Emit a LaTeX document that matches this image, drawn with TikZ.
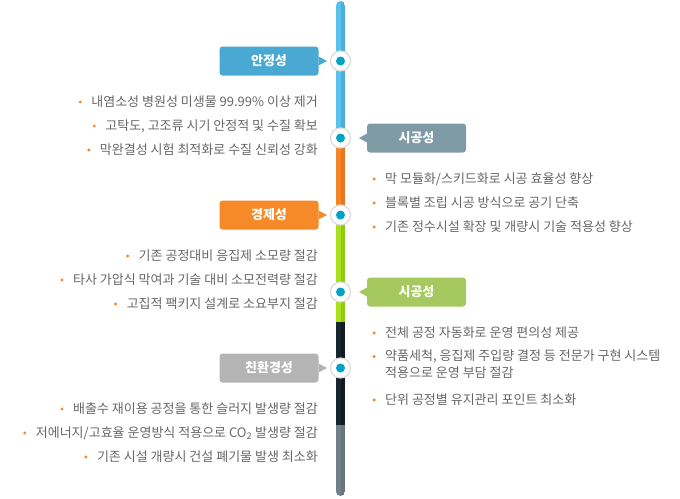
\documentclass[tikz,border=0pt]{standalone}
\usepackage{fontspec}
\setmainfont{Noto Sans CJK KR}
\usetikzlibrary{positioning}

\definecolor{barblue}{HTML}{5BC0EB}
\definecolor{barblueD}{HTML}{4AAEDD}
\definecolor{barorange}{HTML}{F58628}
\definecolor{barorangeD}{HTML}{E6791F}
\definecolor{bargreen}{HTML}{A8E01C}
\definecolor{bargreenD}{HTML}{92C913}
\definecolor{barnavy}{HTML}{18242E}
\definecolor{barnavyD}{HTML}{111B23}
\definecolor{bargray}{HTML}{728189}
\definecolor{bargrayD}{HTML}{67757E}
\definecolor{ringgray}{HTML}{DCDCDC}
\definecolor{hubcyan}{HTML}{00A3C8}
\definecolor{tagblue}{HTML}{4AA9D2}
\definecolor{tagslate}{HTML}{7F9CA6}
\definecolor{tagorange}{HTML}{F68A28}
\definecolor{taggreen}{HTML}{A5C95E}
\definecolor{taggray}{HTML}{B4B4B4}
\definecolor{txtgray}{HTML}{666666}
\definecolor{bulorange}{HTML}{F28C34}

\begin{document}
\begin{tikzpicture}[x=1pt,y=-1pt,node distance=12pt,
  hub/.style={circle,draw=ringgray,line width=1.2pt,fill=white,minimum size=20pt,
    inner sep=0pt,outer sep=0pt,
    path picture={\fill[hubcyan] (path picture bounding box.center) circle (4.5pt);}},
  tag/.style={rounded corners=3pt,minimum width=99pt,minimum height=29pt,inner sep=0pt,
    outer sep=0pt,text=white,font=\fontsize{13}{13}\selectfont\bfseries},
  item/.style={inner sep=0pt,text=txtgray,font=\fontsize{13}{17}\selectfont},
  line/.style={item,text height=10.5pt,text depth=2.5pt},
  bul/.style={circle,fill=bulorange,minimum size=3.4pt,inner sep=0pt,left=9pt of #1}]
 \useasboundingbox (0,0) rectangle (680,498);
 % vertical bar
 \begin{scope}
  \clip[rounded corners=4.5pt] (336,1) rectangle (345,496);
  \fill[barblue] (336,1) rectangle (341,147);     \fill[barblueD] (341,1) rectangle (345,147);
  \fill[barorange] (336,147) rectangle (341,225); \fill[barorangeD] (341,147) rectangle (345,225);
  \fill[bargreen] (336,225) rectangle (341,322);  \fill[bargreenD] (341,225) rectangle (345,322);
  \fill[barnavy] (336,322) rectangle (341,425);   \fill[barnavyD] (341,322) rectangle (345,425);
  \fill[bargray] (336,425) rectangle (341,496);   \fill[bargrayD] (341,425) rectangle (345,496);
 \end{scope}
 % hubs
 \node[hub] (h1) at (340.5,61) {};
 \node[hub] (h2) at (340.5,138) {};
 \node[hub] (h3) at (340.5,215) {};
 \node[hub] (h4) at (340.5,292) {};
 \node[hub] (h5) at (340.5,368) {};
 % tags
 \node[tag,fill=tagblue] (safe) [left=of h1] {안정성};
 \node[tag,fill=tagslate] (build1) [right=16.5pt of h2] {시공성};
 \node[tag,fill=tagorange] (econ) [left=of h3] {경제성};
 \node[tag,fill=taggreen] (build2) [right=16.5pt of h4] {시공성};
 \node[tag,fill=taggray] (eco) [left=of h5] {친환경성};
 \fill[tagblue] ([yshift=4.5pt]safe.east) -- ([xshift=8.5pt]safe.east) -- ([yshift=-4.5pt]safe.east) -- cycle;
 \fill[tagorange] ([yshift=4.5pt]econ.east) -- ([xshift=8.5pt]econ.east) -- ([yshift=-4.5pt]econ.east) -- cycle;
 \fill[taggray] ([yshift=4.5pt]eco.east) -- ([xshift=8.5pt]eco.east) -- ([yshift=-4.5pt]eco.east) -- cycle;
 \fill[tagslate] ([yshift=4.5pt]build1.west) -- ([xshift=-8pt]build1.west) -- ([yshift=-4.5pt]build1.west) -- cycle;
 \fill[taggreen] ([yshift=4.5pt]build2.west) -- ([xshift=-8pt]build2.west) -- ([yshift=-4.5pt]build2.west) -- cycle;
 % safe
 \node[line,anchor=east] (s1) at (318,102) {내염소성 병원성 미생물 99.99\% 이상 제거};
 \node[line,anchor=east] (s2) at (318,126) {고탁도, 고조류 시기 안정적 및 수질 확보};
 \node[line,anchor=east] (s3) at (318,150) {막완결성 시험 최적화로 수질 신뢰성 강화};
 \node[bul=s1] (s1b) {}; \node[bul=s2] (s2b) {}; \node[bul=s3] (s3b) {};
 % build1
 \node[line,anchor=west] (p1) at (385,179) {막 모듈화/스키드화로 시공 효율성 향상};
 \node[line,anchor=west] (p2) at (385,203) {블록별 조립 시공 방식으로 공기 단축};
 \node[line,anchor=west] (p3) at (385,227) {기존 정수시설 확장 및 개량시 기술 적용성 향상};
 \node[bul=p1] (p1b) {}; \node[bul=p2] (p2b) {}; \node[bul=p3] (p3b) {};
 % econ
 \node[line,anchor=east] (e1) at (318,256) {기존 공정대비 응집제 소모량 절감};
 \node[line,anchor=east] (e2) at (318,280) {타사 가압식 막여과 기술 대비 소모전력량 절감};
 \node[line,anchor=east] (e3) at (318,304) {고집적 팩키지 설계로 소요부지 절감};
 \node[bul=e1] (e1b) {}; \node[bul=e2] (e2b) {}; \node[bul=e3] (e3b) {};
 % build2
 \node[line,anchor=west] (q1) at (385,333) {전체 공정 자동화로 운영 편의성 제공};
 \node[item,anchor=north west,align=left] (q2) at (385,349.5) {약품세척, 응집제 주입량 결정 등 전문가 구현 시스템\\적용으로 운영 부담 절감};
 \node[line,anchor=west] (q3) at (385,400) {단위 공정별 유지관리 포인트 최소화};
 \node[bul=q1] (q1b) {}; \node[bul=q3] (q3b) {};
 \node[bul=q2.north west,yshift=-7pt] (q2b) {};
 % eco
 \node[line,anchor=east] (g1) at (318,409) {배출수 재이용 공정을 통한 슬러지 발생량 절감};
 \node[line,anchor=east] (g2) at (318,433) {저에너지/고효율 운영방식 적용으로 CO\textsubscript{2} 발생량 절감};
 \node[line,anchor=east] (g3) at (318,457) {기존 시설 개량시 건설 폐기물 발생 최소화};
 \node[bul=g1] (g1b) {}; \node[bul=g2] (g2b) {}; \node[bul=g3] (g3b) {};
\end{tikzpicture}
\end{document}
